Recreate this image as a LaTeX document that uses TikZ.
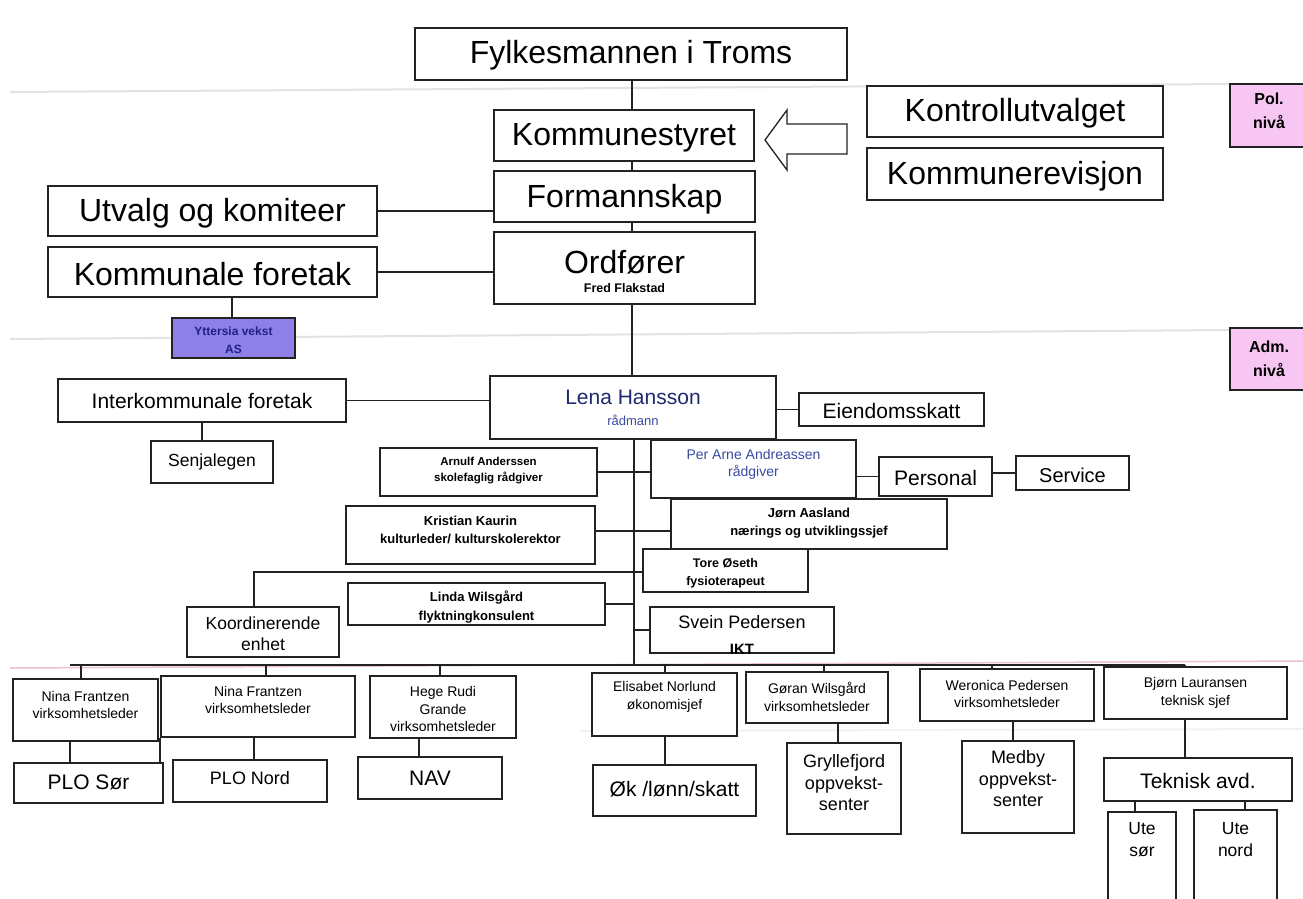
\documentclass[tikz,border=0pt]{standalone}
\usepackage{fontspec}
\setmainfont{Liberation Sans}
\usetikzlibrary{calc}
\pgfdeclarelayer{bg}
\pgfsetlayers{bg,main}
\definecolor{ink}{HTML}{222222}
\definecolor{navy}{HTML}{1F2A6E}
\definecolor{bluetxt}{HTML}{3A4AA0}
\definecolor{pinkfill}{HTML}{F8C6F2}
\definecolor{purplefill}{HTML}{8E80E6}
\definecolor{yttxt}{HTML}{20208A}
\definecolor{guidegray}{HTML}{E2E2E2}
\definecolor{guidepink}{HTML}{EBC3CC}
\newcommand{\fsz}[2]{\fontsize{#1}{#2}\selectfont}
\newcommand{\mybox}[5]{\node[box,minimum width=#4pt,minimum height=#5pt] (#1) at (#2,#3) {};}
\newcommand{\mytext}[5]{\node[tx,font=#4] (#1) at (#2,#3) {#5};}
\begin{document}
\begin{tikzpicture}[x=1pt,y=-1pt,
  box/.style={draw=ink,line width=1.5pt,fill=white,rectangle,inner sep=0pt},
  tx/.style={inner sep=0pt,align=center,text=black},
  conn/.style={draw=ink,line width=1.6pt},
  guide/.style={draw=guidegray,line width=2pt},
]
\useasboundingbox (0,0) rectangle (1303,898);
\clip (0,0) rectangle (1303,898);

% political level
\mybox{fylk}{631}{54}{432}{52}
\mytext{fylk-t}{631}{55}{\fsz{32}{38}}{Fylkesmannen i Troms}
\mybox{kst}{624}{135.5}{260}{51}
\mytext{kst-t}{624}{138}{\fsz{32}{38}}{Kommunestyret}
\mybox{form}{624.5}{196.5}{261}{51}
\mytext{form-t}{624.5}{199}{\fsz{32}{38}}{Formannskap}
\mybox{ord}{624.5}{268}{261}{72}
\mytext{ord-t}{624.5}{262}{\fsz{32}{38}}{Ordfører}
\mytext{ord-s}{624.5}{288}{\bfseries\fsz{12.5}{15}}{Fred Flakstad}
\mybox{utv}{212.5}{211}{329}{50}
\mytext{utv-t}{212.5}{213}{\fsz{32}{38}}{Utvalg og komiteer}
\mybox{kf}{212.5}{272}{329}{50}
\mytext{kf-t}{212.5}{274}{\fsz{32}{38}}{Kommunale foretak}
\node[box,fill=purplefill,minimum width=123pt,minimum height=40pt] (ytt) at (233.5,338) {};
\node[tx,font=\bfseries\fsz{12}{18},text=yttxt] (ytt-t) at (233.5,340) {Yttersia vekst\\AS};
\mybox{kontr}{1015}{111.5}{296}{51}
\mytext{kontr-t}{1015}{113}{\fsz{32}{38}}{Kontrollutvalget}
\mybox{krev}{1015}{174}{296}{52}
\mytext{krev-t}{1015}{176}{\fsz{32}{38}}{Kommunerevisjon}
\node[box,fill=pinkfill,minimum width=80pt,minimum height=63pt] (pol) at (1270,115.5) {};
\mytext{pol-t}{1269}{111}{\bfseries\fsz{16}{24}}{Pol.\\nivå}
\node[box,fill=pinkfill,minimum width=80pt,minimum height=62pt] (adm) at (1270,359) {};
\mytext{adm-t}{1269}{359}{\bfseries\fsz{16}{24}}{Adm.\\nivå}
\draw[box,line width=1.3pt] (765,140) -- (787,110) -- (787,124) -- (847,124) -- (847,154) -- (787,154) -- (787,170) -- cycle;

% administrative level
\mybox{lena}{633}{407.5}{286}{63}
\node[tx,font=\fsz{21}{25},text=navy] (lena-t) at (633,397) {Lena Hansson};
\node[tx,font=\fsz{13}{15},text=bluetxt] (lena-s) at (633,420) {rådmann};
\mybox{eiend}{891.5}{409.5}{185}{33}
\mytext{eiend-t}{891.5}{411}{\fsz{21}{25}}{Eiendomsskatt}
\mybox{interk}{202}{400.5}{288}{43}
\mytext{interk-t}{202}{401}{\fsz{21}{25}}{Interkommunale foretak}
\mybox{senja}{212}{462}{122}{42}
\mytext{senja-t}{212}{462}{\fsz{17.5}{21}}{Senjalegen}
\mybox{arnulf}{488.5}{472}{217}{48}
\mytext{arnulf-t}{488.5}{471}{\bfseries\fsz{11.5}{16}}{Arnulf Anderssen\\skolefaglig rådgiver}
\mybox{peramne}{753.5}{469}{205}{58}
\node[tx,font=\fsz{14}{17},text=bluetxt] (peramne-t) at (753.5,464) {Per Arne Andreassen\\rådgiver};
\mybox{personal}{935.5}{476.5}{113}{39}
\mytext{personal-t}{935.5}{478}{\fsz{21}{25}}{Personal}
\mybox{service}{1072.5}{473}{113}{34}
\mytext{service-t}{1072.5}{475}{\fsz{20}{24}}{Service}
\mybox{jorn}{809}{524}{276}{50}
\mytext{jorn-t}{809}{523}{\bfseries\fsz{13}{18}}{Jørn Aasland\\nærings og utviklingssjef}
\mybox{kristian}{470.5}{535}{249}{58}
\mytext{kristian-t}{470.5}{530}{\bfseries\fsz{13}{18}}{Kristian Kaurin\\kulturleder/ kulturskolerektor}
\mybox{tore}{725.5}{570.5}{165}{43}
\mytext{tore-t}{725.5}{573}{\bfseries\fsz{12.5}{18}}{Tore Øseth\\fysioterapeut}
\mybox{linda}{476.5}{604}{257}{42}
\mytext{linda-t}{476.5}{607}{\bfseries\fsz{13}{19}}{Linda Wilsgård\\flyktningkonsulent}
\mybox{koord}{263}{632}{152}{50}
\mytext{koord-t}{263}{634}{\fsz{17.5}{21}}{Koordinerende\\enhet}
\mybox{svein}{742}{630}{184}{46}
\mytext{svein-t}{742}{622}{\fsz{18}{22}}{Svein Pedersen}
\mytext{svein-s}{742}{649}{\bfseries\fsz{15}{18}}{IKT}

% bottom row
\mybox{nina1}{85.5}{710}{145}{62}
\mytext{nina1-t}{85.5}{705}{\fsz{14}{17.5}}{Nina Frantzen\\virksomhetsleder}
\mybox{nina2}{258}{706.5}{194}{61}
\mytext{nina2-t}{258}{700}{\fsz{14}{17.5}}{Nina Frantzen\\virksomhetsleder}
\mybox{hege}{443}{707}{146}{62}
\mytext{hege-t}{443}{709}{\fsz{14}{17.5}}{Hege Rudi\\Grande\\virksomhetsleder}
\mybox{elis}{664.5}{704.5}{145}{63}
\mytext{elis-t}{664.5}{697}{\fsz{14}{17.5}}{Elisabet Norlund\\økonomisjef}
\mybox{goran}{817}{697.5}{142}{51}
\mytext{goran-t}{817}{697}{\fsz{14}{17.5}}{Gøran Wilsgård\\virksomhetsleder}
\mybox{weron}{1007}{695}{174}{52}
\mytext{weron-t}{1007}{694}{\fsz{14}{17.5}}{Weronica Pedersen\\virksomhetsleder}
\mybox{bjorn}{1195.5}{693}{183}{52}
\mytext{bjorn-t}{1195.5}{693}{\fsz{14}{17.5}}{Bjørn Lauransen\\teknisk sjef}
\mybox{plosor}{88.5}{783}{149}{40}
\mytext{plosor-t}{88.5}{782}{\fsz{21}{25}}{PLO Sør}
\mybox{plonord}{250}{781}{154}{42}
\mytext{plonord-t}{250}{778}{\fsz{18}{22}}{PLO Nord}
\mybox{nav}{430}{778}{144}{42}
\mytext{nav-t}{430}{778}{\fsz{21}{25}}{NAV}
\mybox{oek}{674.5}{790.5}{163}{51}
\mytext{oek-t}{674.5}{789}{\fsz{21}{25}}{Øk /lønn/skatt}
\mybox{gryl}{844}{788.5}{114}{91}
\mytext{gryl-t}{844}{783}{\fsz{18}{21.5}}{Gryllefjord\\oppvekst-\\senter}
\mybox{medby}{1018}{787}{112}{92}
\mytext{medby-t}{1018}{779}{\fsz{18}{21.5}}{Medby\\oppvekst-\\senter}
\mybox{tekn}{1198}{779.5}{188}{43}
\mytext{tekn-t}{1198}{781}{\fsz{21}{25}}{Teknisk avd.}
\mybox{utesor}{1142}{861}{68}{98}
\mytext{utesor-t}{1142}{840}{\fsz{17.5}{22}}{Ute\\sør}
\mybox{utenord}{1235.5}{860}{83}{100}
\mytext{utenord-t}{1235.5}{840}{\fsz{17.5}{22}}{Ute\\nord}

\begin{pgfonlayer}{bg}
  \fill[white] (0,0) rectangle (1303,898);
  \draw[guide] (10,92) -- (1230,84);
  \draw[guide] (10,339) -- (1230,330);
  \draw[draw=guidepink,line width=1.5pt] (10,668) -- (1303,661);
  \draw[draw=black!5,line width=2pt] (580,731) -- (1303,729);
  % trunk
  \coordinate (tx) at (632,0);
  \coordinate (tx2) at (634,0);
  \draw[conn] (fylk.south -| tx) -- (kst.north -| tx);
  \draw[conn] (kst.south -| tx) -- (form.north -| tx);
  \draw[conn] (form.south -| tx) -- (ord.north -| tx);
  \draw[conn] (ord.south -| tx) -- (lena.north -| tx);
  \coordinate (busL) at (70,665);
  \coordinate (busR) at (1185,665);
  \draw[conn] (lena.south -| tx2) -- (busL -| tx2);
  \draw[conn] (busL) -- (busR);
  % political side links
  \draw[conn] (utv.east) -- (utv.east -| form.west);
  \draw[conn] (kf.east) -- (kf.east -| ord.west);
  \coordinate (c1) at (232,0);
  \draw[conn] (c1 |- kf.south) -- (c1 |- ytt.north);
  % admin links
  \draw[conn] (interk.east) -- (interk.east -| lena.west);
  \coordinate (c2) at (202,0);
  \draw[conn] (c2 |- interk.south) -- (c2 |- senja.north);
  \draw[conn] (lena.east |- eiend.west) -- (eiend.west);
  \draw[conn] (arnulf.east) -- (arnulf.east -| peramne.west);
  \draw[conn] (peramne.east |- personal.west) -- (personal.west);
  \draw[conn] (personal.east |- service.west) -- (service.west);
  \coordinate (h1) at (0,531);
  \draw[conn] (h1 -| kristian.east) -- (h1 -| jorn.west);
  \coordinate (h2) at (254,572);
  \draw[conn] (h2 |- koord.north) -- (h2) -- (h2 -| tore.west);
  \draw[conn] (linda.east) -- (linda.east -| tx2);
  \draw[conn] (svein.west -| tx2) -- (svein.west);
  % drops from bus
  \coordinate (d1) at (81,665);
  \coordinate (d2) at (266,665);
  \coordinate (d3) at (440,665);
  \coordinate (d4) at (665,665);
  \coordinate (d5) at (824,665);
  \coordinate (d6) at (992,665);
  \draw[conn] (d1) -- (d1 |- nina1.north);
  \draw[conn] (d2) -- (d2 |- nina2.north);
  \draw[conn] (d3) -- (d3 |- hege.north);
  \draw[conn] (d4) -- (d4 |- elis.north);
  \draw[conn] (d5) -- (d5 |- goran.north);
  \draw[conn] (d6) -- (d6 |- weron.north);
  \draw[conn] (busR) -- (busR |- bjorn.north);
  % second level drops
  \coordinate (v1) at (70,0);
  \coordinate (v2) at (254,0);
  \coordinate (v3) at (419,0);
  \coordinate (v4) at (665,0);
  \coordinate (v5) at (838,0);
  \coordinate (v6) at (1013,0);
  \coordinate (v7) at (1185,0);
  \coordinate (v8) at (1135,0);
  \coordinate (v9) at (1245,0);
  \draw[conn] (v1 |- nina1.south) -- (v1 |- plosor.north);
  \draw[conn] (v2 |- nina2.south) -- (v2 |- plonord.north);
  \draw[conn] (v3 |- hege.south) -- (v3 |- nav.north);
  \draw[conn] (v4 |- elis.south) -- (v4 |- oek.north);
  \draw[conn] (v5 |- goran.south) -- (v5 |- gryl.north);
  \draw[conn] (v6 |- weron.south) -- (v6 |- medby.north);
  \draw[conn] (v7 |- bjorn.south) -- (v7 |- tekn.north);
  \draw[conn] (v8 |- tekn.south) -- (v8 |- utesor.north);
  \draw[conn] (v9 |- tekn.south) -- (v9 |- utenord.north);
  \draw[conn] (nina2.south west) -- (nina2.south west |- plosor.north);
\end{pgfonlayer}
\end{tikzpicture}
\end{document}
